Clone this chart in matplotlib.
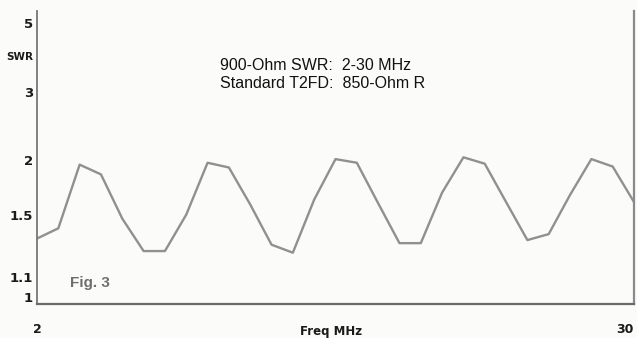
import numpy as np
import matplotlib
matplotlib.use("Agg")
import matplotlib.pyplot as plt

# SWR of the 900-ohm line with a standard T2FD (850-ohm terminating resistor)
freq_mhz = [2, 3, 4, 5, 6, 7, 8, 9, 10, 11, 12, 13, 14, 15, 16,
            17, 18, 19, 20, 21, 22, 23, 24, 25, 26, 27, 28, 29, 30]
swr = [1.33, 1.40, 1.95, 1.85, 1.47, 1.25, 1.25, 1.50, 1.97, 1.92,
       1.58, 1.29, 1.24, 1.62, 2.01, 1.97, 1.59, 1.30, 1.30, 1.68,
       2.03, 1.96, 1.60, 1.32, 1.36, 1.66, 2.01, 1.93, 1.60]

swr_ticks = [1, 1.1, 1.5, 2, 3, 5]
swr_tick_labels = ["1", "1.1", "1.5", "2", "3", "5"]
freq_ticks = [2, 30]
freq_tick_labels = ["2", "30"]


# SWR axis is linear in reflection coefficient |rho| = (s - 1) / (s + 1)
def to_rho(s):
    s = np.asarray(s, dtype=float)
    with np.errstate(divide="ignore", invalid="ignore"):
        return (s - 1.0) / (s + 1.0)


def from_rho(r):
    r = np.asarray(r, dtype=float)
    with np.errstate(divide="ignore", invalid="ignore"):
        return (1.0 + r) / (1.0 - r)


bg = "#fbfbf9"
fig = plt.figure(figsize=(6.37, 3.38), dpi=100, facecolor=bg)
W, H = 637, 338
ax = fig.add_axes([37 / W, 1 - 304 / H, (634 - 37) / W, (304 - 11) / H])
ax.set_facecolor(bg)

ax.set_yscale("function", functions=(to_rho, from_rho))
ax.set_xlim(2, 30)
ax.set_ylim(0.9645, 5.6)

ax.plot(freq_mhz, swr, color="#909090", lw=1.7, solid_joinstyle="round")

ax.set_yticks(swr_ticks, swr_tick_labels)
ax.set_xticks(freq_ticks, freq_tick_labels)
ax.minorticks_off()
ax.tick_params(axis="y", length=0, pad=3, labelsize=9.5)
ax.tick_params(axis="x", length=0, pad=14, labelsize=9)
for lab in ax.get_yticklabels() + ax.get_xticklabels():
    lab.set_fontweight("bold")
    lab.set_color("#1a1a1a")
# keep the right-hand frequency label inside the figure
ax.get_xticklabels()[-1].set_horizontalalignment("right")

ax.spines["top"].set_visible(False)
ax.spines["left"].set_color("#777777")
ax.spines["left"].set_linewidth(1.3)
ax.spines["bottom"].set_color("#6a6a6a")
ax.spines["bottom"].set_linewidth(1.6)
ax.spines["right"].set_color("#8a8a8a")
ax.spines["right"].set_linewidth(1.6)

ax.text(-0.006, 0.842, "SWR", transform=ax.transAxes, ha="right", va="center",
        fontsize=7.5, fontweight="bold", color="#1a1a1a")

fig.text(220 / W, 1 - 65 / H, "900-Ohm SWR:  2-30 MHz", va="center", ha="left",
         fontsize=11.5, family="Liberation Sans", color="#111111")
fig.text(220 / W, 1 - 83 / H, "Standard T2FD:  850-Ohm R", va="center", ha="left",
         fontsize=11.5, family="Liberation Sans", color="#111111")

fig.text(70 / W, 1 - 283 / H, "Fig. 3", va="center", ha="left", fontsize=11,
         fontweight="bold", family="Liberation Sans", color="#6e6e6e")

fig.text(331 / W, 1 - 332 / H, "Freq MHz", va="center", ha="center",
         fontsize=8.5, fontweight="bold", color="#1a1a1a")

fig.savefig("out.png", dpi=100, facecolor=bg)
